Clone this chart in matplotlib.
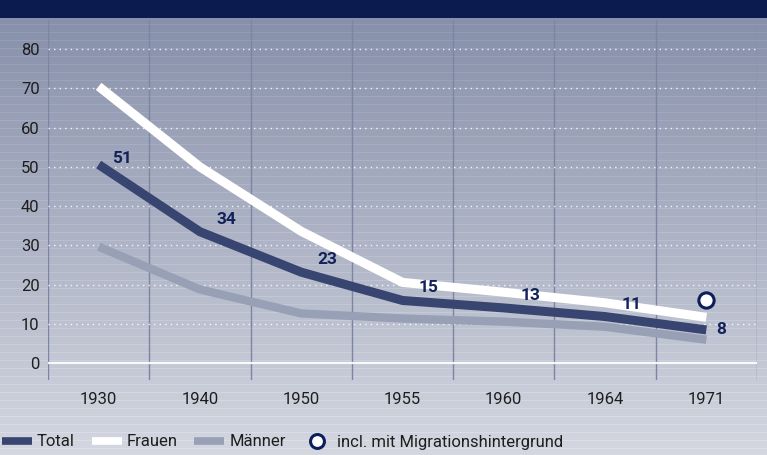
import numpy as np
import matplotlib
matplotlib.use("Agg")
import matplotlib.pyplot as plt
from matplotlib.lines import Line2D
from matplotlib.patches import Rectangle

years = ["1930", "1940", "1950", "1955", "1960", "1964", "1971"]
total = [50.6, 33.5, 23.2, 16.0, 14.1, 11.9, 8.5]
frauen = [70.5, 50.0, 33.6, 20.6, 18.1, 15.4, 11.7]
maenner = [29.7, 18.8, 12.7, 11.4, 10.6, 9.3, 6.0]
total_labels = ["51", "34", "23", "15", "13", "11", "8"]
migration_value = 16.0
yticks = [0, 10, 20, 30, 40, 50, 60, 70, 80]

W, H = 767, 455
fig = plt.figure(figsize=(W / 100, H / 100), dpi=100)

plt.rcParams["font.family"] = ["Roboto", "DejaVu Sans"]

# background gradient with faint stripes
bg = fig.add_axes([0, 0, 1, 1], zorder=-10)
rows = np.linspace(0, 1, H)
top = np.array([0x84, 0x8d, 0xa8]) / 255
bot = np.array([0xd4, 0xd7, 0xe0]) / 255
grad = top[None, :] * (1 - rows[:, None]) + bot[None, :] * rows[:, None]
stripe = ((np.arange(H) % 8) == 0).astype(float)[:, None] * 0.04
grad = np.clip(grad + stripe, 0, 1)
img = np.repeat(grad[:, None, :], 4, axis=1)
bg.imshow(img, aspect="auto", extent=[0, 1, 0, 1], origin="upper")
bg.add_patch(Rectangle((0, 1 - 18 / H), 1, 18 / H, color="#0b1b50", lw=0))
bg.set_xlim(0, 1)
bg.set_ylim(0, 1)
bg.axis("off")

# main axes
left, right = 48 / W, 757 / W
bottom, topy = 1 - 380 / H, 1 - 20 / H
ax = fig.add_axes([left, bottom, right - left, topy - bottom])
ax.patch.set_alpha(0)
x = np.arange(len(years))
ax.set_xlim(-0.5, len(years) - 0.5)
ax.set_ylim(-4.25, 87.4)
for s in ax.spines.values():
    s.set_visible(False)

for b in np.arange(-0.5, len(years), 1.0):
    ax.axvline(b, color="#7c86a4", lw=1.0, zorder=1)
for v in yticks[1:]:
    ax.axhline(v, color="white", lw=1.0, ls=(0, (1, 3)), zorder=1, alpha=0.9)
ax.axhline(0, color="white", lw=1.6, zorder=1, alpha=0.9)

ax.plot(x, maenner, color="#98a0b6", lw=6.0, solid_capstyle="butt", solid_joinstyle="miter", zorder=3)
ax.plot(x, frauen, color="white", lw=6.5, solid_capstyle="butt", solid_joinstyle="miter", zorder=4)
ax.plot(x, total, color="#394571", lw=6.5, solid_capstyle="butt", solid_joinstyle="miter", zorder=5)

ax.plot([x[-1]], [migration_value], marker="o", ms=11, mfc="white", mec="#0d1f5a", mew=2.2, ls="none", zorder=6)

for i, (xi, yi, lab) in enumerate(zip(x, total, total_labels)):
    if i == 0:
        off = (17, 4)
    elif i == len(x) - 1:
        off = (11, 0)
    else:
        off = (19, 9)
    ax.annotate(lab, (xi, yi), xytext=off, textcoords="offset points",
                ha="center", va="center", fontsize=12.5, fontweight="bold",
                color="#13235a", zorder=7)

ax.set_yticks(yticks)
ax.set_yticklabels([str(v) for v in yticks])
ax.set_xticks(x)
ax.set_xticklabels(years)
ax.tick_params(axis="both", length=0, labelsize=12, colors="#1e1e1e")
ax.tick_params(axis="y", pad=6)
ax.tick_params(axis="x", pad=9)

handles = [
    Line2D([], [], color="#394571", lw=5.5, solid_capstyle="butt"),
    Line2D([], [], color="white", lw=5.5, solid_capstyle="butt"),
    Line2D([], [], color="#98a0b6", lw=5.5, solid_capstyle="butt"),
    Line2D([], [], marker="o", ms=10, mfc="white", mec="#0d1f5a", mew=2.2, ls="none"),
]
labels = ["Total", "Frauen", "Männer", "incl. mit Migrationshintergrund"]
fig.legend(handles, labels, loc="center left", bbox_to_anchor=(-0.017, 13 / H), ncol=4,
           frameon=False, fontsize=12, handlelength=1.8, handletextpad=0.3,
           columnspacing=1.0, labelcolor="#1e1e1e")

fig.savefig("out.png", dpi=100)
